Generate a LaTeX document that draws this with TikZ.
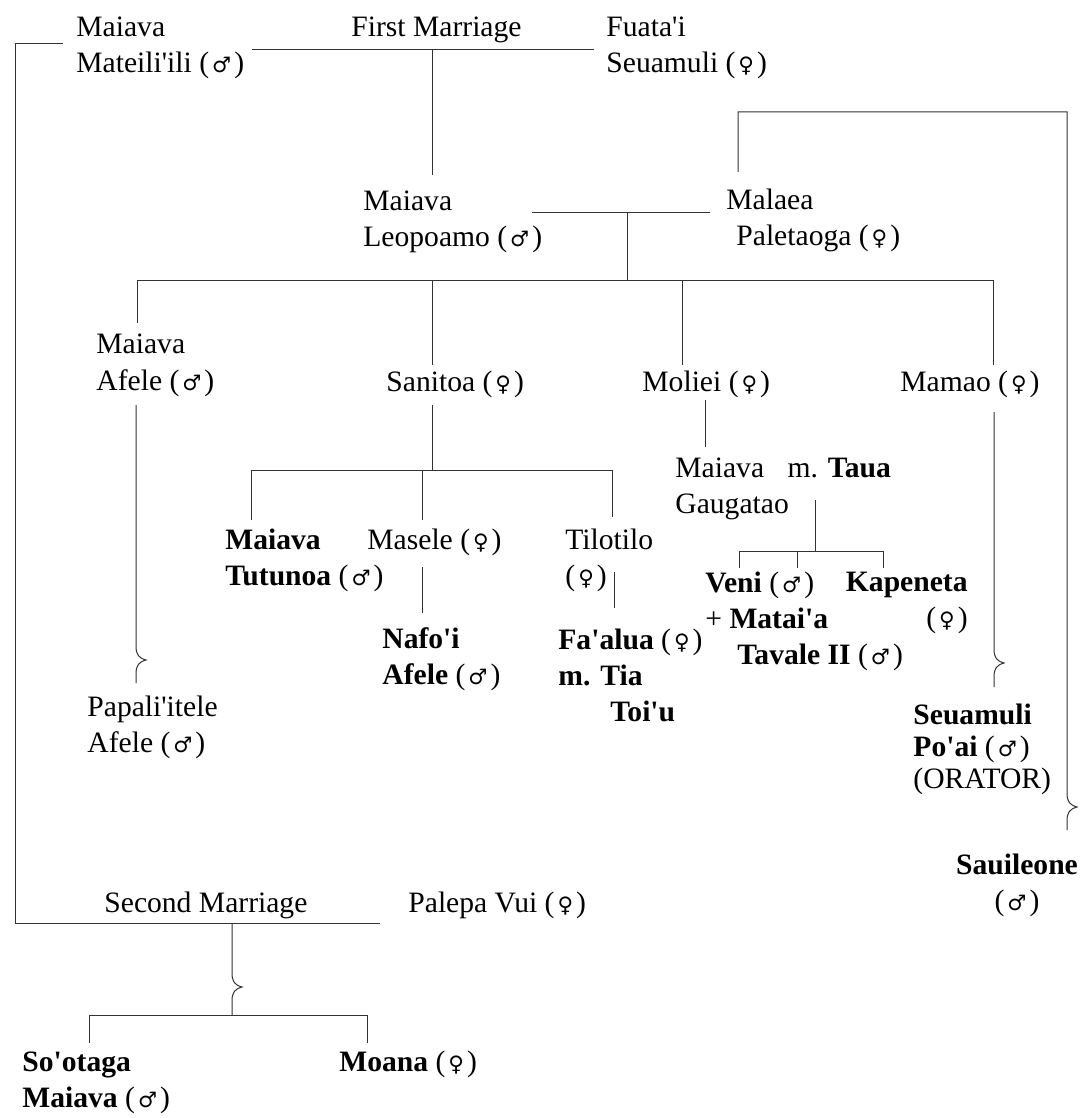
\documentclass[tikz,border=0pt]{standalone}
\usepackage{fontspec}
\setmainfont{Liberation Serif}[Ligatures=TeXOff]
\newfontfamily\symfont{DejaVu Sans}[Scale=0.72]

\newcommand{\mal}{(\kern1.5pt{\symfont ♂}\kern1.5pt)}
\newcommand{\fem}{(\kern1.5pt{\symfont ♀}\kern1.5pt)}

\begin{document}
\begin{tikzpicture}[x=0.5pt,y=-0.5pt]

\tikzset{
	person/.style={anchor=north west, inner sep=0pt, align=left, font=\fontsize{14.8}{18}\selectfont},
	kin/.style={draw=black!80, line width=0.5pt}
}

\useasboundingbox (0,0) rectangle (1085,1118);

% people
\node[person] (mateili) at (76,17) {Maiava\\Mateili'ili \mal};
\node[person] (firstm) at (351,17) {First Marriage};
\node[person] (fuatai) at (606,17) {Fuata'i\\Seuamuli \fem};

\node[person] (leopoamo) at (363,191) {Maiava\\Leopoamo \mal};
\node[person] (malaea) at (726,189) {Malaea\\\hspace{5pt}Paletaoga \fem};

\node[person] (afele) at (96,334) {Maiava\\Afele \mal};
\node[person] (sanitoa) at (386,371) {Sanitoa \fem};
\node[person] (moliei) at (642,371) {Moliei \fem};
\node[person] (mamao) at (900,371) {Mamao \fem};

\node[person] (gaugatao) at (675,457) {Maiava\hspace{8pt} m. \textbf{Taua}\\Gaugatao};

\node[person] (tutunoa) at (225,529) {\textbf{Maiava}\\\textbf{Tutunoa} \mal};
\node[person] (masele) at (367,529) {Masele \fem};
\node[person] (tilotilo) at (565,529) {Tilotilo\\\fem};

\node[person] (veni) at (705,572) {\textbf{Veni} \mal\\+ \textbf{Matai'a}\\\hspace{16pt}\textbf{Tavale II} \mal};
\node[person, anchor=north east, align=right] (kapeneta) at (968,572) {\textbf{Kapeneta}\\\fem};

\node[person] (nafoi) at (382,627) {\textbf{Nafo'i}\\\textbf{Afele} \mal};
\node[person] (faalua) at (558,629) {\textbf{Fa'alua} \fem\\\textbf{m. Tia}\\\hspace{26pt}\textbf{Toi'u}};

\node[person] (papali) at (87,696) {Papali'itele\\Afele \mal};
\node[person, font=\fontsize{14.8}{16}\selectfont] (seuamuli) at (913,704) {\textbf{Seuamuli}\\\textbf{Po'ai} \mal\\(ORATOR)};
\node[person, anchor=north, align=center] (sauileone) at (1017,854) {\textbf{Sauileone}\\\mal};

\node[person] (secondm) at (104,892) {Second Marriage};
\node[person] (palepa) at (408,892) {Palepa Vui \fem};

\node[person] (sootaga) at (22,1051) {\textbf{So'otaga}\\\textbf{Maiava} \mal};
\node[person] (moana) at (339,1051) {\textbf{Moana} \fem};

% junctions
\coordinate (m1L) at (252,50);
\coordinate (m1R) at (594,50);
\coordinate (m1c) at (432,50);
\coordinate (m1d) at (432,175);
\coordinate (lb1) at (63,44);
\coordinate (lb2) at (15,44);
\coordinate (lb3) at (15,923);
\coordinate (m2R) at (380,923);
\coordinate (rb1) at (738,172);
\coordinate (rb2) at (738,112);
\coordinate (rb3) at (1067,112);
\coordinate (rb4) at (1067,830);
\coordinate (p1L) at (532,213);
\coordinate (p1R) at (710,213);
\coordinate (p1c) at (627,213);
\coordinate (p1d) at (627,280);
\coordinate (cL) at (137,280);
\coordinate (cR) at (993,280);
\coordinate (c1d) at (137,323);
\coordinate (c2) at (432,280);
\coordinate (c2d) at (432,365);
\coordinate (c3) at (682,280);
\coordinate (c3d) at (682,365);
\coordinate (c4d) at (993,365);
\coordinate (af1) at (136,405);
\coordinate (af2) at (136,683);
\coordinate (sa1) at (432,405);
\coordinate (sa2) at (432,470);
\coordinate (gL) at (251,470);
\coordinate (gR) at (612,470);
\coordinate (g1d) at (251,520);
\coordinate (g2) at (422,470);
\coordinate (g2d) at (422,520);
\coordinate (g3d) at (612,517);
\coordinate (ma1) at (422,567);
\coordinate (ma2) at (422,613);
\coordinate (ti1) at (614,572);
\coordinate (ti2) at (614,608);
\coordinate (mo1) at (705,400);
\coordinate (mo2) at (705,447);
\coordinate (ta1) at (815,500);
\coordinate (ta2) at (815,551);
\coordinate (vL) at (739,551);
\coordinate (vR) at (883,551);
\coordinate (v1d) at (739,568);
\coordinate (v2) at (797,551);
\coordinate (v2d) at (797,568);
\coordinate (v3d) at (883,568);
\coordinate (mm1) at (994,412);
\coordinate (mm2) at (994,687);
\coordinate (sm1) at (232,923);
\coordinate (sm2) at (232,1015);
\coordinate (sL) at (89,1015);
\coordinate (sR) at (367,1015);
\coordinate (s1d) at (89,1043);
\coordinate (s2d) at (367,1043);

\begin{scope}[every path/.style={kin}]
	\draw (m1L) -- (m1R);
	\draw (m1c) -- (m1d);
	\draw (lb1) -- (lb2) -- (lb3) -- (m2R);
	\draw (rb1) -- (rb2) -- (rb3) -- (1067,793) .. controls (1067,802) and (1070,805) .. (1077,807) .. controls (1070,809) and (1067,812) .. (1067,821) -- (rb4);
	\draw (p1L) -- (p1R);
	\draw (p1c) -- (p1d);
	\draw (cL) -- (cR);
	\draw (cL) -- (c1d);
	\draw (c2) -- (c2d);
	\draw (c3) -- (c3d);
	\draw (cR) -- (c4d);
	\draw (af1) -- (136,646) .. controls (136,655) and (139,658) .. (146,660) .. controls (139,662) and (136,665) .. (136,674) -- (af2);
	\draw (sa1) -- (sa2);
	\draw (gL) -- (gR);
	\draw (gL) -- (g1d);
	\draw (g2) -- (g2d);
	\draw (gR) -- (g3d);
	\draw (ma1) -- (ma2);
	\draw (ti1) -- (ti2);
	\draw (mo1) -- (mo2);
	\draw (ta1) -- (ta2);
	\draw (vL) -- (vR);
	\draw (vL) -- (v1d);
	\draw (v2) -- (v2d);
	\draw (vR) -- (v3d);
	\draw (mm1) -- (994,649) .. controls (994,658) and (997,661) .. (1004,663) .. controls (997,665) and (994,668) .. (994,677) -- (mm2);
	\draw (sm1) -- (232,973) .. controls (232,982) and (235,985) .. (242,987) .. controls (235,989) and (232,992) .. (232,1001) -- (sm2);
	\draw (sL) -- (sR);
	\draw (sL) -- (s1d);
	\draw (sR) -- (s2d);
\end{scope}

\end{tikzpicture}
\end{document}
